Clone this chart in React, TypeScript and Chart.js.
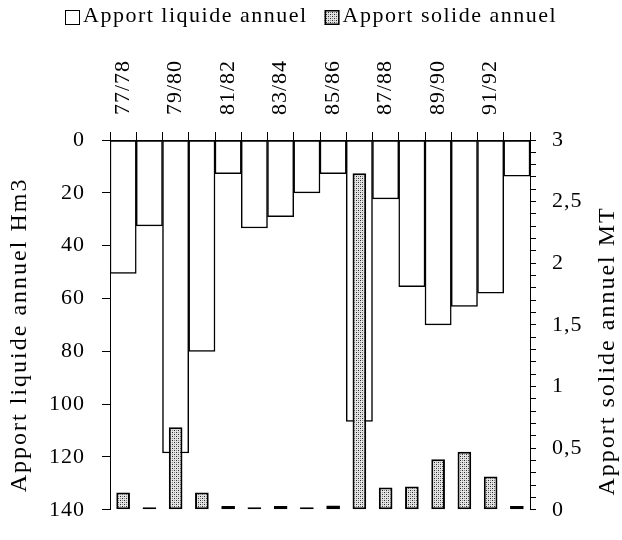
import React, { useEffect, useRef } from 'react';
import { Chart, registerables } from 'chart.js';

Chart.register(...registerables);

// ---- data ----
const seasons = ['77/78', '78/79', '79/80', '80/81', '81/82', '82/83', '83/84', '84/85', '85/86', '86/87', '87/88', '88/89', '89/90', '90/91', '91/92', '92/93'];
const liquidHm3 = [50.5, 32.5, 118.5, 80, 12.7, 33.3, 29, 20, 12.7, 106.5, 22.3, 55.5, 70, 63, 58, 13.7];
const solidMT = [0.14, 0.02, 0.67, 0.14, 0.03, 0.02, 0.03, 0.02, 0.035, 2.73, 0.18, 0.19, 0.41, 0.47, 0.27, 0.03];
const seriesNames = ['Apport liquide annuel', 'Apport solide annuel'];
const axisTitles = ['Apport liquide annuel Hm3', 'Apport solide annuel MT'];
const leftRange = [0, 140];
const leftStep = 20;
const rightRange = [0, 3];
const rightMinorStep = 0.1;

const FONT = '"Liberation Serif", "Times New Roman", serif';

function makeStipple(ctx: CanvasRenderingContext2D) {
  const c = document.createElement('canvas');
  c.width = 4;
  c.height = 4;
  const g = c.getContext('2d')!;
  g.fillStyle = '#e4e4e4';
  g.fillRect(0, 0, 4, 4);
  g.fillStyle = '#2a2a2a';
  g.fillRect(0, 0, 1, 1);
  g.fillRect(2, 2, 1, 1);
  g.fillStyle = '#8a8a8a';
  g.fillRect(2, 0, 1, 1);
  g.fillRect(0, 2, 1, 1);
  return ctx.createPattern(c, 'repeat')!;
}

export default function App() {
  const ref = useRef<HTMLCanvasElement>(null);

  useEffect(() => {
    const canvas = ref.current!;
    const ctx = canvas.getContext('2d')!;
    const stipple = makeStipple(ctx);

    const spacingPlugin = {
      id: 'spacing',
      beforeUpdate(chart: any) {
        chart.ctx.letterSpacing = '1px';
      },
      beforeDraw(chart: any) {
        chart.ctx.letterSpacing = '1px';
      },
    };

    const textPlugin = {
      id: 'texts',
      afterDraw(chart: any) {
        const c: any = chart.ctx;
        const { top, bottom } = chart.chartArea;
        c.save();
        c.fillStyle = '#000';
        // axis titles
        c.font = '24px ' + FONT;
        c.letterSpacing = '2px';
        c.textAlign = 'center';
        c.textBaseline = 'middle';
        const mid = (top + bottom) / 2;
        c.save();
        c.translate(20, mid + 10);
        c.rotate(-Math.PI / 2);
        c.fillText(axisTitles[0], 0, 0);
        c.restore();
        c.save();
        c.translate(608, mid + 26);
        c.rotate(-Math.PI / 2);
        c.fillText(axisTitles[1], 0, 0);
        c.restore();
        // legend
        c.font = '22px ' + FONT;
        c.letterSpacing = '1.5px';
        c.textAlign = 'left';
        c.textBaseline = 'alphabetic';
        const bx1 = 65;
        c.fillStyle = '#fff';
        c.fillRect(bx1, 10, 15, 15);
        c.strokeStyle = '#000';
        c.lineWidth = 1;
        c.strokeRect(bx1 + 0.5, 10.5, 14, 14);
        c.fillStyle = '#000';
        const tx1 = bx1 + 18;
        c.fillText(seriesNames[0], tx1, 22);
        const w1 = c.measureText(seriesNames[0]).width;
        const bx2 = tx1 + w1 + 17;
        c.fillStyle = stipple;
        c.fillRect(bx2, 10, 15, 15);
        c.lineWidth = 1.5;
        c.strokeRect(bx2 + 0.75, 10.75, 13.5, 13.5);
        c.fillStyle = '#000';
        c.fillText(seriesNames[1], bx2 + 18, 22);
        c.restore();
      },
    };

    const tickFont = { family: FONT, size: 22 };

    const chart = new Chart(canvas, {
      type: 'bar',
      data: {
        labels: seasons,
        datasets: [
          {
            label: seriesNames[0],
            data: liquidHm3,
            yAxisID: 'y',
            backgroundColor: '#ffffff',
            borderColor: '#000000',
            borderWidth: 1.5,
            borderSkipped: false,
            barPercentage: 1,
            categoryPercentage: 1,
            grouped: false,
            order: 2,
          } as any,
          {
            label: seriesNames[1],
            data: solidMT,
            yAxisID: 'y1',
            backgroundColor: stipple,
            borderColor: '#000000',
            borderWidth: 2,
            borderSkipped: false,
            barPercentage: 0.52,
            categoryPercentage: 1,
            grouped: false,
            order: 1,
          } as any,
        ],
      },
      options: {
        responsive: false,
        devicePixelRatio: 1,
        animation: false,
        layout: { padding: { top: 0, bottom: 13, left: 0, right: 0 } },
        plugins: {
          legend: { display: false },
          tooltip: { enabled: false },
        },
        scales: {
          x: {
            type: 'category',
            position: 'top',
            offset: true,
            grid: { offset: true, drawOnChartArea: false, drawTicks: true, tickLength: 8, color: '#000', lineWidth: 1 },
            border: { display: true, color: '#000', width: 1 },
            ticks: {
              autoSkip: false,
              maxRotation: 90,
              minRotation: 90,
              padding: 17,
              labelOffset: 26,
              color: '#000',
              font: tickFont,
              callback: (_v: any, i: number) => (i % 2 === 0 ? seasons[i] : ''),
            },
            afterFit: (s: any) => {
              s.height = 140;
            },
          },
          y: {
            type: 'linear',
            position: 'left',
            reverse: true,
            min: leftRange[0],
            max: leftRange[1],
            grid: { drawOnChartArea: false, tickLength: 8, color: '#000' },
            border: { display: true, color: '#000', width: 1 },
            ticks: { stepSize: leftStep, padding: 17, color: '#000', font: tickFont },
            afterFit: (s: any) => {
              s.width = 110;
            },
          },
          y1: {
            type: 'linear',
            position: 'right',
            min: rightRange[0],
            max: rightRange[1],
            grid: { drawOnChartArea: false, tickLength: 6, color: '#000' },
            border: { display: true, color: '#000', width: 1 },
            ticks: {
              stepSize: rightMinorStep,
              autoSkip: false,
              padding: 16,
              color: '#000',
              font: tickFont,
              callback: (v: any) => {
                const n = Number(v);
                return Math.abs(n * 2 - Math.round(n * 2)) < 1e-6
                  ? String(Math.round(n * 10) / 10).replace('.', ',')
                  : '';
              },
            },
            afterFit: (s: any) => {
              s.width = 92;
            },
          },
        },
      } as any,
      plugins: [spacingPlugin, textPlugin],
    });

    return () => chart.destroy();
  }, []);

  return (
    <div style={{ position: 'absolute', left: 0, top: 0, width: 622, height: 540, background: '#fff' }}>
      <canvas ref={ref} width={622} height={540} style={{ display: 'block', width: 622, height: 540 }} />
    </div>
  );
}
